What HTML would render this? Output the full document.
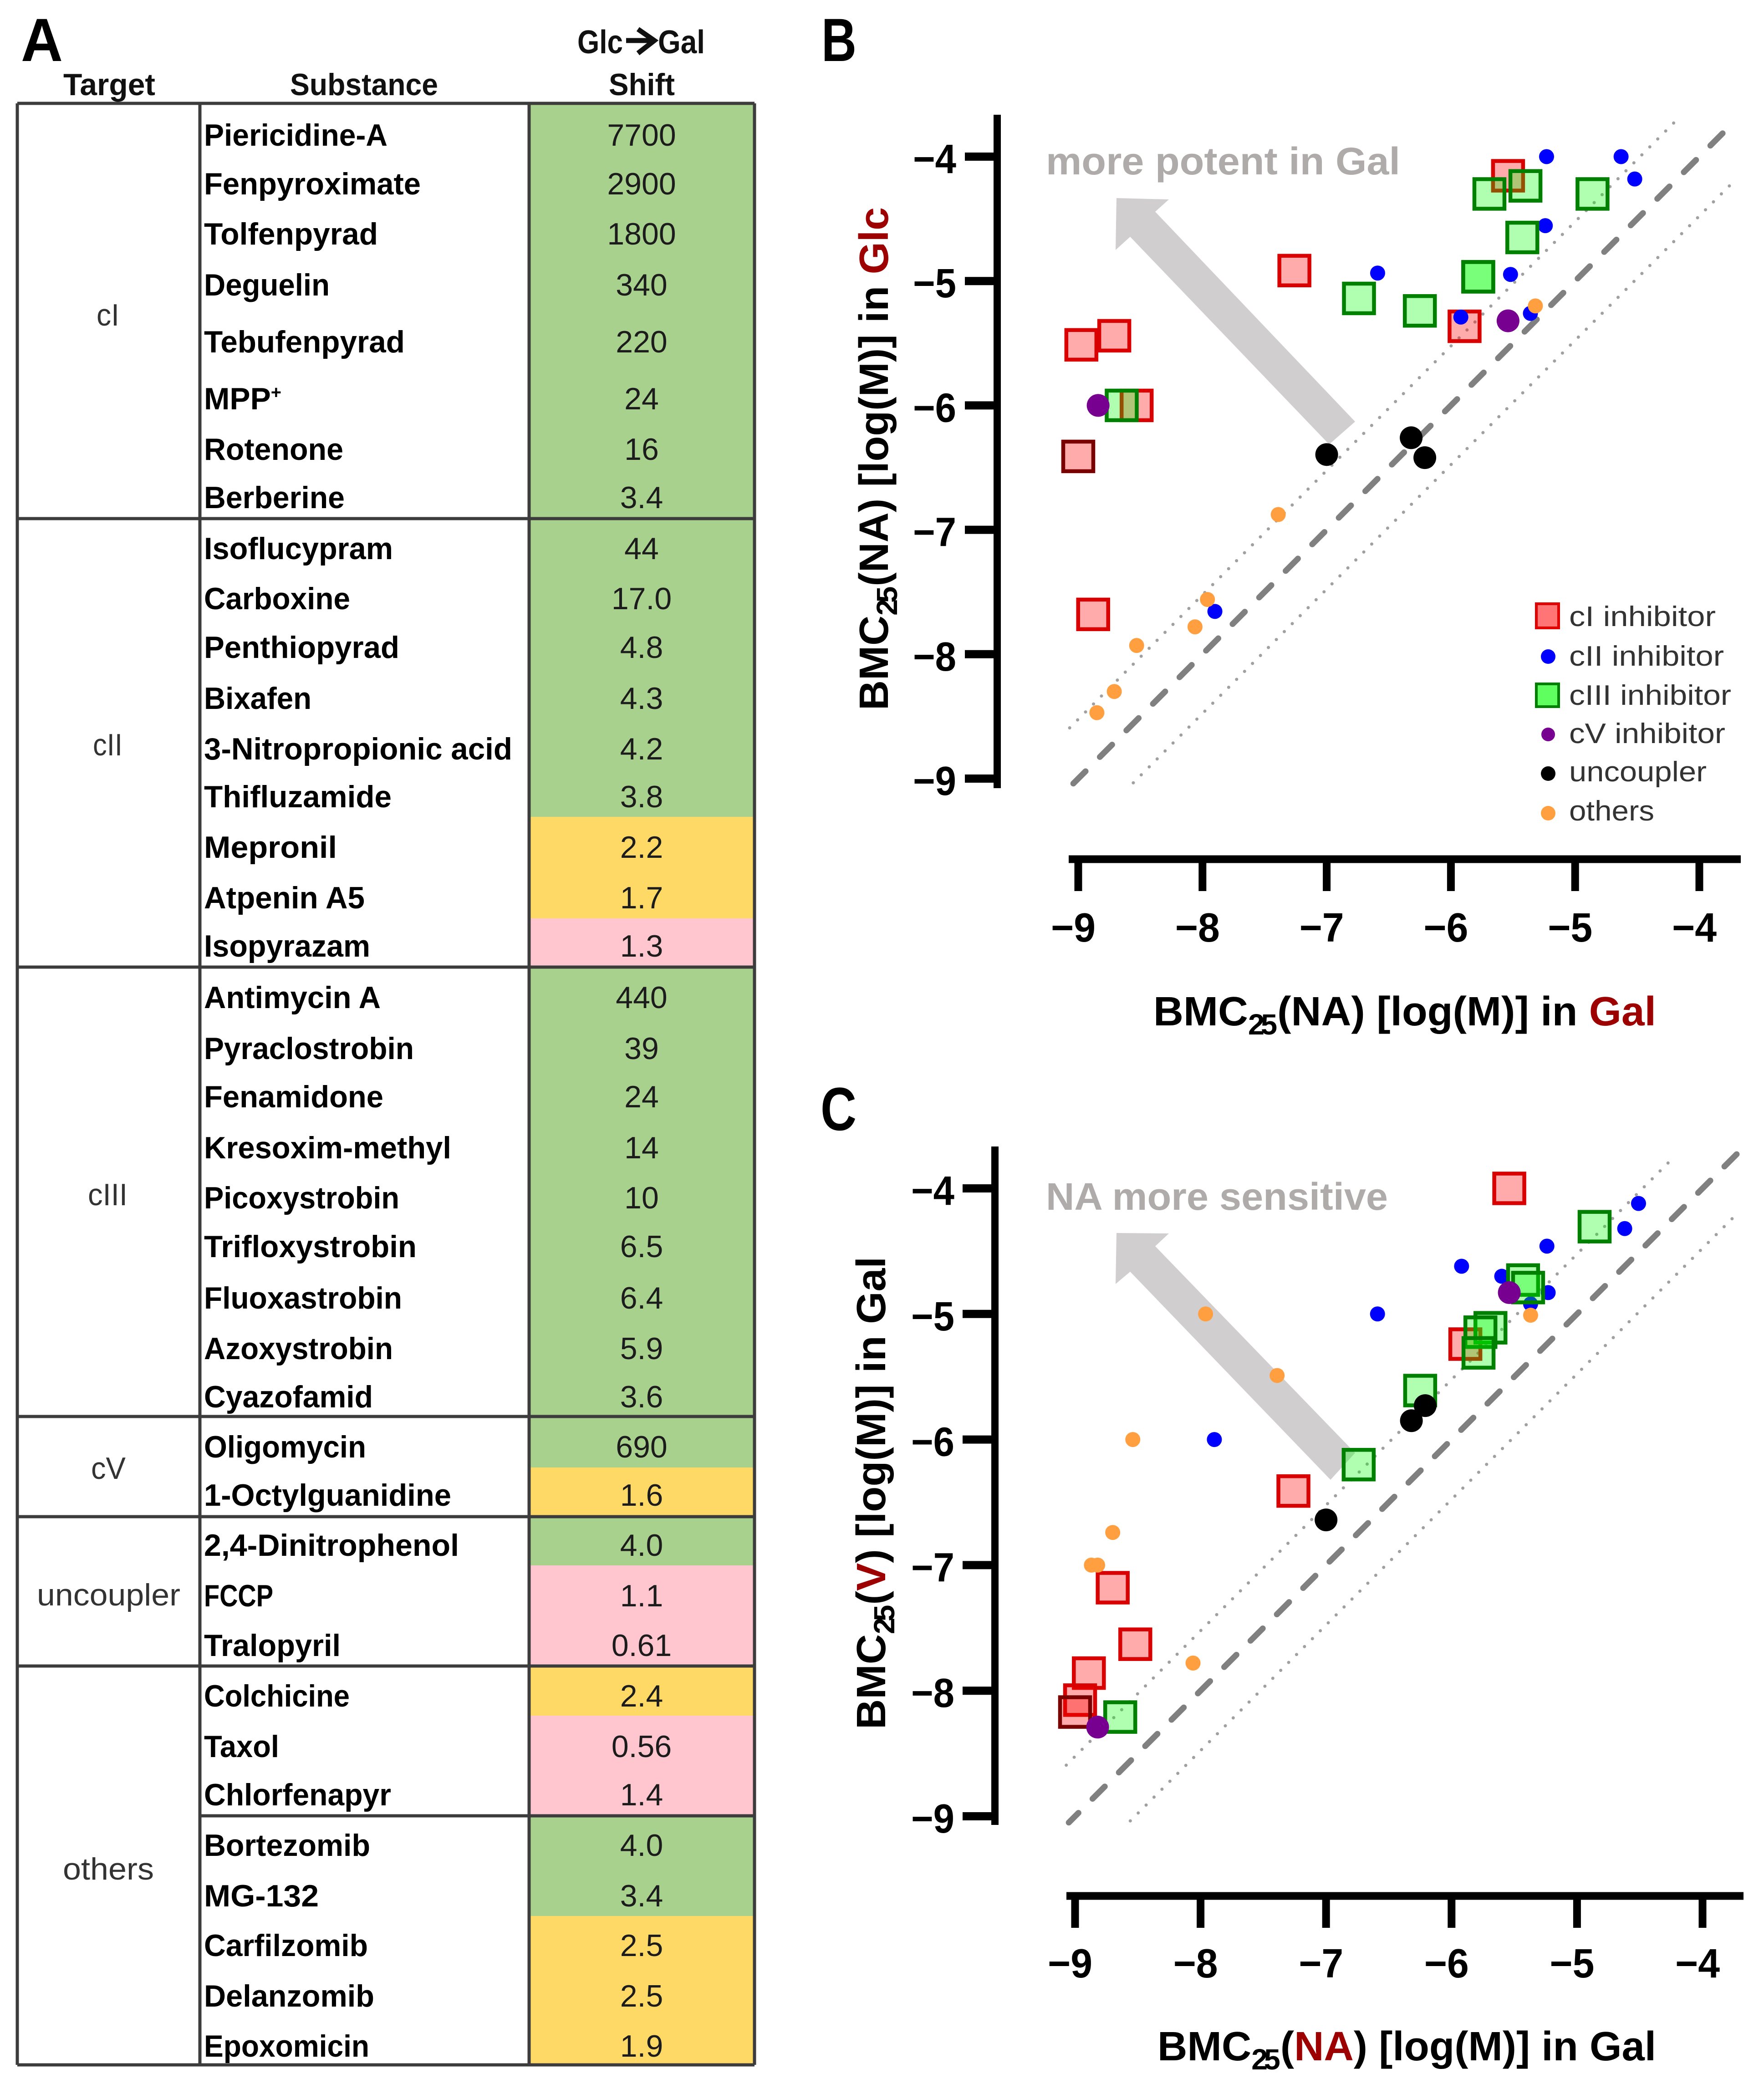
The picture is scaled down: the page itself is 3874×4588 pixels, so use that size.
<!DOCTYPE html>
<html lang="en">
<head>
<meta charset="utf-8">
<title>Glc to Gal shift table and BMC25 scatter plots</title>
<style>
html,body{margin:0;padding:0;background:#fff;}
svg{display:block;font-family:"Liberation Sans",sans-serif;}
.n{font-size:68px;font-weight:700;fill:#000;}
.v{font-size:68px;fill:#1c1c1c;text-anchor:middle;}
.t{font-size:68px;fill:#333;}
.h{font-size:68px;font-weight:700;fill:#111;}
.l{stroke:#3c3c3c;stroke-width:7;fill:none;}
.leg{font-size:62px;fill:#333;}
.ax{font-size:90px;font-weight:700;fill:#000;}
</style>
</head>
<body>
<svg id="figure" xmlns="http://www.w3.org/2000/svg" width="3874" height="4588" viewBox="0 0 3874 4588">
<rect x="0" y="0" width="3874" height="4588" fill="#fff"/>

<g>
<text x="46" y="134" font-size="134" font-weight="700" textLength="92" lengthAdjust="spacingAndGlyphs">A</text>
<text class="h" x="139" y="209" textLength="202" lengthAdjust="spacingAndGlyphs">Target</text>
<text class="h" x="637" y="209" textLength="325" lengthAdjust="spacingAndGlyphs">Substance</text>
<text class="h" style="font-size:72px" x="1268" y="117" textLength="100" lengthAdjust="spacingAndGlyphs">Glc</text>
<path d="M1375 89H1436M1401 64L1437 89L1401 117" fill="none" stroke="#111" stroke-width="11"/>
<text class="h" style="font-size:72px" x="1445" y="117" textLength="103" lengthAdjust="spacingAndGlyphs">Gal</text>
<text class="h" x="1337" y="209" textLength="145" lengthAdjust="spacingAndGlyphs">Shift</text>

<rect x="1162" y="227" width="495" height="1567" fill="#a9d18e"/>
<rect x="1162" y="1794" width="495" height="223" fill="#ffd966"/>
<rect x="1162" y="2017" width="495" height="107" fill="#ffc6cf"/>
<rect x="1162" y="2124" width="495" height="1099" fill="#a9d18e"/>
<rect x="1162" y="3223" width="495" height="108" fill="#ffd966"/>
<rect x="1162" y="3331" width="495" height="107" fill="#a9d18e"/>
<rect x="1162" y="3438" width="495" height="221" fill="#ffc6cf"/>
<rect x="1162" y="3659" width="495" height="109" fill="#ffd966"/>
<rect x="1162" y="3768" width="495" height="220" fill="#ffc6cf"/>
<rect x="1162" y="3988" width="495" height="220" fill="#a9d18e"/>
<rect x="1162" y="4208" width="495" height="327" fill="#ffd966"/>

<path class="l" d="M38 227H1657M38 1139H1657M38 2124H1657M38 3111H1657M38 3331H1657M38 3659H1657M439 3988H1657M38 4535H1657M38 227V4535M439 227V4535M1162 227V4535M1657 227V4535"/>

<text class="t" x="212" y="715" textLength="50" lengthAdjust="spacingAndGlyphs">cI</text>
<text class="t" x="204" y="1659" textLength="65" lengthAdjust="spacingAndGlyphs">cII</text>
<text class="t" x="193" y="2647" textLength="87" lengthAdjust="spacingAndGlyphs">cIII</text>
<text class="t" x="200" y="3248" textLength="76" lengthAdjust="spacingAndGlyphs">cV</text>
<text class="t" x="81" y="3526" textLength="315" lengthAdjust="spacingAndGlyphs">uncoupler</text>
<text class="t" x="138" y="4128" textLength="200" lengthAdjust="spacingAndGlyphs">others</text>

<text class="n" x="448" y="320" textLength="403" lengthAdjust="spacingAndGlyphs">Piericidine-A</text><text class="v" x="1409" y="320">7700</text>
<text class="n" x="448" y="427" textLength="476" lengthAdjust="spacingAndGlyphs">Fenpyroximate</text><text class="v" x="1409" y="427">2900</text>
<text class="n" x="448" y="537" textLength="382" lengthAdjust="spacingAndGlyphs">Tolfenpyrad</text><text class="v" x="1409" y="537">1800</text>
<text class="n" x="448" y="649" textLength="276" lengthAdjust="spacingAndGlyphs">Deguelin</text><text class="v" x="1409" y="649">340</text>
<text class="n" x="448" y="774" textLength="441" lengthAdjust="spacingAndGlyphs">Tebufenpyrad</text><text class="v" x="1409" y="774">220</text>
<text class="n" x="448" y="899" textLength="170" lengthAdjust="spacingAndGlyphs">MPP<tspan font-size="40" dy="-24">+</tspan></text><text class="v" x="1409" y="899">24</text>
<text class="n" x="448" y="1010" textLength="306" lengthAdjust="spacingAndGlyphs">Rotenone</text><text class="v" x="1409" y="1010">16</text>
<text class="n" x="448" y="1116" textLength="309" lengthAdjust="spacingAndGlyphs">Berberine</text><text class="v" x="1409" y="1116">3.4</text>

<text class="n" x="448" y="1228" textLength="415" lengthAdjust="spacingAndGlyphs">Isoflucypram</text><text class="v" x="1409" y="1228">44</text>
<text class="n" x="448" y="1338" textLength="321" lengthAdjust="spacingAndGlyphs">Carboxine</text><text class="v" x="1409" y="1338">17.0</text>
<text class="n" x="448" y="1445" textLength="429" lengthAdjust="spacingAndGlyphs">Penthiopyrad</text><text class="v" x="1409" y="1445">4.8</text>
<text class="n" x="448" y="1557" textLength="236" lengthAdjust="spacingAndGlyphs">Bixafen</text><text class="v" x="1409" y="1557">4.3</text>
<text class="n" x="448" y="1668" textLength="677" lengthAdjust="spacingAndGlyphs">3-Nitropropionic acid</text><text class="v" x="1409" y="1668">4.2</text>
<text class="n" x="448" y="1773" textLength="412" lengthAdjust="spacingAndGlyphs">Thifluzamide</text><text class="v" x="1409" y="1773">3.8</text>
<text class="n" x="448" y="1884" textLength="292" lengthAdjust="spacingAndGlyphs">Mepronil</text><text class="v" x="1409" y="1884">2.2</text>
<text class="n" x="448" y="1995" textLength="353" lengthAdjust="spacingAndGlyphs">Atpenin A5</text><text class="v" x="1409" y="1995">1.7</text>
<text class="n" x="448" y="2101" textLength="365" lengthAdjust="spacingAndGlyphs">Isopyrazam</text><text class="v" x="1409" y="2101">1.3</text>

<text class="n" x="448" y="2214" textLength="388" lengthAdjust="spacingAndGlyphs">Antimycin A</text><text class="v" x="1409" y="2214">440</text>
<text class="n" x="448" y="2326" textLength="461" lengthAdjust="spacingAndGlyphs">Pyraclostrobin</text><text class="v" x="1409" y="2326">39</text>
<text class="n" x="448" y="2432" textLength="394" lengthAdjust="spacingAndGlyphs">Fenamidone</text><text class="v" x="1409" y="2432">24</text>
<text class="n" x="448" y="2544" textLength="543" lengthAdjust="spacingAndGlyphs">Kresoxim-methyl</text><text class="v" x="1409" y="2544">14</text>
<text class="n" x="448" y="2654" textLength="429" lengthAdjust="spacingAndGlyphs">Picoxystrobin</text><text class="v" x="1409" y="2654">10</text>
<text class="n" x="448" y="2761" textLength="467" lengthAdjust="spacingAndGlyphs">Trifloxystrobin</text><text class="v" x="1409" y="2761">6.5</text>
<text class="n" x="448" y="2874" textLength="435" lengthAdjust="spacingAndGlyphs">Fluoxastrobin</text><text class="v" x="1409" y="2874">6.4</text>
<text class="n" x="448" y="2985" textLength="415" lengthAdjust="spacingAndGlyphs">Azoxystrobin</text><text class="v" x="1409" y="2985">5.9</text>
<text class="n" x="448" y="3091" textLength="371" lengthAdjust="spacingAndGlyphs">Cyazofamid</text><text class="v" x="1409" y="3091">3.6</text>

<text class="n" x="448" y="3201" textLength="356" lengthAdjust="spacingAndGlyphs">Oligomycin</text><text class="v" x="1409" y="3201">690</text>
<text class="n" x="448" y="3307" textLength="543" lengthAdjust="spacingAndGlyphs">1-Octylguanidine</text><text class="v" x="1409" y="3307">1.6</text>

<text class="n" x="448" y="3417" textLength="560" lengthAdjust="spacingAndGlyphs">2,4-Dinitrophenol</text><text class="v" x="1409" y="3417">4.0</text>
<text class="n" x="448" y="3528" textLength="152" lengthAdjust="spacingAndGlyphs">FCCP</text><text class="v" x="1409" y="3528">1.1</text>
<text class="n" x="448" y="3637" textLength="300" lengthAdjust="spacingAndGlyphs">Tralopyril</text><text class="v" x="1409" y="3637">0.61</text>

<text class="n" x="448" y="3748" textLength="320" lengthAdjust="spacingAndGlyphs">Colchicine</text><text class="v" x="1409" y="3748">2.4</text>
<text class="n" x="448" y="3859" textLength="165" lengthAdjust="spacingAndGlyphs">Taxol</text><text class="v" x="1409" y="3859">0.56</text>
<text class="n" x="448" y="3965" textLength="411" lengthAdjust="spacingAndGlyphs">Chlorfenapyr</text><text class="v" x="1409" y="3965">1.4</text>
<text class="n" x="448" y="4076" textLength="365" lengthAdjust="spacingAndGlyphs">Bortezomib</text><text class="v" x="1409" y="4076">4.0</text>
<text class="n" x="448" y="4187" textLength="252" lengthAdjust="spacingAndGlyphs">MG-132</text><text class="v" x="1409" y="4187">3.4</text>
<text class="n" x="448" y="4296" textLength="360" lengthAdjust="spacingAndGlyphs">Carfilzomib</text><text class="v" x="1409" y="4296">2.5</text>
<text class="n" x="448" y="4407" textLength="374" lengthAdjust="spacingAndGlyphs">Delanzomib</text><text class="v" x="1409" y="4407">2.5</text>
<text class="n" x="448" y="4517" textLength="363" lengthAdjust="spacingAndGlyphs">Epoxomicin</text><text class="v" x="1409" y="4517">1.9</text>
</g>

<g id="panel-b">
<text x="1804" y="134" font-size="134" font-weight="700" textLength="77" lengthAdjust="spacingAndGlyphs">B</text>
<polygon points="2452,435 2567,438 2537,465 2976,926 2919,976 2482,520 2450,549" fill="#d0cece"/>
<text x="2297" y="383" font-size="84" font-weight="700" fill="#afabab" textLength="778" lengthAdjust="spacingAndGlyphs">more potent in Gal</text>
<text class="ax" x="2533" y="2252" textLength="1104" lengthAdjust="spacingAndGlyphs">BMC<tspan font-size="64" dy="20"><tspan letter-spacing="-8">2</tspan>5</tspan><tspan dy="-20">(NA) [log(M)] in </tspan><tspan fill="#9c0000">Gal</tspan></text>
<text class="ax" transform="translate(1950,1560) rotate(-90)" x="0" y="0" textLength="1105" lengthAdjust="spacingAndGlyphs">BMC<tspan font-size="64" dy="20"><tspan letter-spacing="-8">2</tspan>5</tspan><tspan dy="-20">(NA) [log(M)] in </tspan><tspan fill="#9c0000">Glc</tspan></text>
</g>

<g>
<rect x="3374" y="1326" width="49" height="53" fill="#ff7474" stroke="#e00000" stroke-width="6"/>
<text class="leg" x="3446" y="1375" textLength="322" lengthAdjust="spacingAndGlyphs">cI inhibitor</text>
<circle cx="3400" cy="1442" r="16" fill="#0000ff"/>
<text class="leg" x="3446" y="1462" textLength="340" lengthAdjust="spacingAndGlyphs">cII inhibitor</text>
<rect x="3374" y="1502" width="49" height="50" fill="#5fff5f" stroke="#008000" stroke-width="6"/>
<text class="leg" x="3446" y="1548" textLength="356" lengthAdjust="spacingAndGlyphs">cIII inhibitor</text>
<circle cx="3400" cy="1613" r="15" fill="#780090"/>
<text class="leg" x="3446" y="1632" textLength="343" lengthAdjust="spacingAndGlyphs">cV inhibitor</text>
<circle cx="3400" cy="1699" r="16" fill="#000"/>
<text class="leg" x="3446" y="1716" textLength="302" lengthAdjust="spacingAndGlyphs">uncoupler</text>
<circle cx="3400" cy="1786" r="16" fill="#ff9f40"/>
<text class="leg" x="3446" y="1802" textLength="187" lengthAdjust="spacingAndGlyphs">others</text>
</g>

<g id="panel-c">
<text x="1802" y="2482" font-size="134" font-weight="700" textLength="79" lengthAdjust="spacingAndGlyphs">C</text>
<polygon points="2452,2708 2567,2709 2537,2737 2976,3191 2922,3250 2482,2793 2450,2820" fill="#d0cece"/>
<text x="2297" y="2657" font-size="84" font-weight="700" fill="#afabab" textLength="751" lengthAdjust="spacingAndGlyphs">NA more sensitive</text>
<text class="ax" x="2542" y="4525" textLength="1095" lengthAdjust="spacingAndGlyphs">BMC<tspan font-size="64" dy="20"><tspan letter-spacing="-8">2</tspan>5</tspan><tspan dy="-20">(</tspan><tspan fill="#9c0000">NA</tspan><tspan>) [log(M)] in Gal</tspan></text>
<text class="ax" transform="translate(1944,3798) rotate(-90)" x="0" y="0" textLength="1038" lengthAdjust="spacingAndGlyphs">BMC<tspan font-size="64" dy="20"><tspan letter-spacing="-8">2</tspan>5</tspan><tspan dy="-20">(</tspan><tspan fill="#9c0000">V</tspan><tspan>) [log(M)] in Gal</tspan></text>
</g>

<script>
const tickValues = [-9, -8, -7, -6, -5, -4];
const tickLabels = ['\u22129', '\u22128', '\u22127', '\u22126', '\u22125', '\u22124'];
const foldLimit = 0.477;

const bRedX = [-5.54, -7.26, -5.89, -8.975, -8.71, -8.53, -8.88];
const bRedY = [-4.154, -4.916, -5.364, -5.513, -5.44, -6.0, -7.68];
const bDarkX = [-9.0];
const bDarkY = [-6.41];
const bBlueX = [-5.23, -4.63, -4.52, -5.24, -6.59, -5.52, -5.92, -5.36, -7.90];
const bBlueY = [-4.0, -4.0, -4.18, -4.555, -4.936, -4.947, -5.29, -5.26, -7.656];
const bGreenX = [-5.69, -5.40, -4.86, -5.425, -5.78, -5.78, -6.74, -6.25, -8.65];
const bGreenY = [-4.30, -4.235, -4.30, -4.65, -4.966, -4.966, -5.14, -5.24, -6.0];
const bPurpleX = [-8.84, -5.54];
const bPurpleY = [-6.0, -5.32];
const bBlackX = [-7.0, -6.32, -6.21];
const bBlackY = [-6.395, -6.26, -6.42];
const bOrangeX = [-5.32, -7.39, -7.96, -8.06, -8.53, -8.71, -8.85];
const bOrangeY = [-5.20, -6.877, -7.56, -7.78, -7.93, -8.30, -8.47];

const cRedX = [-5.54, -7.26, -5.89, -8.70, -8.52, -8.89, -8.96];
const cRedY = [-4.0, -6.41, -5.24, -7.18, -7.63, -7.86, -8.075];
const cDarkX = [-9.0];
const cDarkY = [-8.17];
const cBlueX = [-4.51, -4.62, -5.24, -5.92, -5.60, -5.23, -5.37, -6.59, -7.89];
const cBlueY = [-4.12, -4.32, -4.46, -4.62, -4.70, -4.83, -4.92, -5.0, -6.0];
const cGreenX = [-4.86, -5.43, -5.39, -5.69, -5.77, -5.785, -6.25, -6.74, -8.64];
const cGreenY = [-4.305, -4.73, -4.79, -5.11, -5.145, -5.31, -5.61, -6.2, -8.21];
const cPurpleX = [-5.54, -8.82];
const cPurpleY = [-4.83, -8.29];
const cBlackX = [-7.0, -6.32, -6.21];
const cBlackY = [-6.64, -5.85, -5.73];
const cOrangeX = [-5.37, -7.96, -7.39, -8.54, -8.70, -8.87, -8.82, -8.06];
const cOrangeY = [-5.01, -5.0, -5.49, -6.0, -6.74, -7.0, -7.0, -7.78];

const NS = 'http://www.w3.org/2000/svg';

function makeEl(parent, tag, attrs) {
  const el = document.createElementNS(NS, tag);
  for (const k in attrs) { el.setAttribute(k, attrs[k]); }
  parent.appendChild(el);
  return el;
}

function drawSquares(parent, sx, sy, xs, ys, stroke, fill, label, h) {
  xs.forEach(function (v, i) {
    const el = makeEl(parent, 'rect', {
      x: sx(v) - 33, y: sy(ys[i]) - h / 2, width: 66, height: h,
      fill: fill, stroke: stroke, 'stroke-width': 8.5
    });
    
    
  });
}

function drawDots(parent, sx, sy, xs, ys, color, r, label) {
  xs.forEach(function (v, i) {
    const el = makeEl(parent, 'circle', { cx: sx(v), cy: sy(ys[i]), r: r, fill: color });
    
    
  });
}

function drawGuide(parent, sx, sy, from, to, offset, label, style) {
  const el = makeEl(parent, 'line', {
    x1: sx(from), y1: sy(from + offset), x2: sx(to), y2: sy(to + offset),
    stroke: style.color, 'stroke-width': style.width, 'stroke-linecap': 'round',
    'stroke-dasharray': style.dash, 'stroke-dashoffset': style.phase
  });
  
  
}

function drawAxes(parent, g, sx, sy, prefix) {
  const yAxis = makeEl(parent, 'line', { x1: g.axisX, y1: g.axisTop, x2: g.axisX, y2: g.axisBottom, stroke: '#000', 'stroke-width': 16 });
  
  
  const xAxis = makeEl(parent, 'line', { x1: g.axisLeft, y1: g.axisY, x2: g.axisRight, y2: g.axisY, stroke: '#000', 'stroke-width': 17 });
  
  
  tickValues.forEach(function (v, i) {
    const yTick = makeEl(parent, 'line', { x1: g.axisX - 71, y1: sy(v), x2: g.axisX, y2: sy(v), stroke: '#000', 'stroke-width': 18 });
    
    
    const yLabel = makeEl(parent, 'text', { x: g.yLabelX, y: sy(v) + 36, textLength: 95, lengthAdjust: 'spacingAndGlyphs', class: 'ax' });
    yLabel.textContent = tickLabels[i];
    
    
    const xTick = makeEl(parent, 'line', { x1: sx(v), y1: g.axisY, x2: sx(v), y2: g.axisY + 70, stroke: '#000', 'stroke-width': 17 });
    
    
    const xLabel = makeEl(parent, 'text', { x: sx(v) - 60, y: g.xLabelY, textLength: 98, lengthAdjust: 'spacingAndGlyphs', class: 'ax' });
    xLabel.textContent = tickLabels[i];
    
    
  });
}

function drawPanel(prefix, g, d) {
  const parent = document.getElementById('panel-' + prefix);
  const sx = function (v) { return g.x0 + (v + 9) * g.xu; };
  const sy = function (v) { return g.y0 + (-4 - v) * g.yu; };
  drawGuide(parent, sx, sy, g.lineFrom, g.lineTo, 0, prefix + '-identity-line',
    { color: '#808080', width: 13, dash: g.dash, phase: g.dashPhase });
  drawGuide(parent, sx, sy, -9.12, g.upperTo, foldLimit, prefix + '-upper-limit-line',
    { color: '#a0a0a0', width: 7, dash: g.dot, phase: g.upperPhase });
  drawGuide(parent, sx, sy, -8.56, g.lowerTo, -foldLimit, prefix + '-lower-limit-line',
    { color: '#a0a0a0', width: 7, dash: g.dot, phase: g.lowerPhase });
  drawAxes(parent, g, sx, sy, prefix);
  drawSquares(parent, sx, sy, d.redX, d.redY, '#d80000', 'rgba(255,0,0,0.33)', prefix + '-ci', g.sq);
  drawSquares(parent, sx, sy, d.darkX, d.darkY, '#7a0000', 'rgba(255,0,0,0.33)', prefix + '-ci-dark', g.sq);
  drawDots(parent, sx, sy, d.blueX, d.blueY, '#0000ff', 16.5, prefix + '-cii');
  drawSquares(parent, sx, sy, d.greenX, d.greenY, '#008000', 'rgba(0,255,0,0.31)', prefix + '-ciii', g.sq);
  drawDots(parent, sx, sy, d.purpleX, d.purpleY, '#780090', 25, prefix + '-cv');
  drawDots(parent, sx, sy, d.blackX, d.blackY, '#000', 25, prefix + '-uncoupler');
  drawDots(parent, sx, sy, d.orangeX, d.orangeY, '#ff9f40', 16.5, prefix + '-others');
}

drawPanel('b', {
  x0: 2368, xu: 272.8, y0: 344, yu: 273.2,
  axisX: 2190, axisTop: 252, axisBottom: 1731,
  axisY: 1887, axisLeft: 2347, axisRight: 3823,
  yLabelX: 2005, xLabelY: 2068,
  lineFrom: -9.05, lineTo: -3.8, upperTo: -4.2, lowerTo: -3.74, sq: 65,
  dash: '38 44.5', dashPhase: -4, dot: '0.1 24.6', upperPhase: -19.6, lowerPhase: -1.2
}, {
  redX: bRedX, redY: bRedY, darkX: bDarkX, darkY: bDarkY,
  blueX: bBlueX, blueY: bBlueY, greenX: bGreenX, greenY: bGreenY,
  purpleX: bPurpleX, purpleY: bPurpleY, blackX: bBlackX, blackY: bBlackY,
  orangeX: bOrangeX, orangeY: bOrangeY
});

drawPanel('c', {
  x0: 2361, xu: 275.6, y0: 2610, yu: 275.8,
  axisX: 2185, axisTop: 2518, axisBottom: 4008,
  axisY: 4164, axisLeft: 2342, axisRight: 3829,
  yLabelX: 2001, xLabelY: 4343,
  lineFrom: -9.05, lineTo: -3.72, upperTo: -4.22, lowerTo: -3.705, sq: 65,
  dash: '38 43.8', dashPhase: 8, dot: '0.1 24.5', upperPhase: -19.4, lowerPhase: 0
}, {
  redX: cRedX, redY: cRedY, darkX: cDarkX, darkY: cDarkY,
  blueX: cBlueX, blueY: cBlueY, greenX: cGreenX, greenY: cGreenY,
  purpleX: cPurpleX, purpleY: cPurpleY, blackX: cBlackX, blackY: cBlackY,
  orangeX: cOrangeX, orangeY: cOrangeY
});
</script>
</svg>
</body>
</html>
